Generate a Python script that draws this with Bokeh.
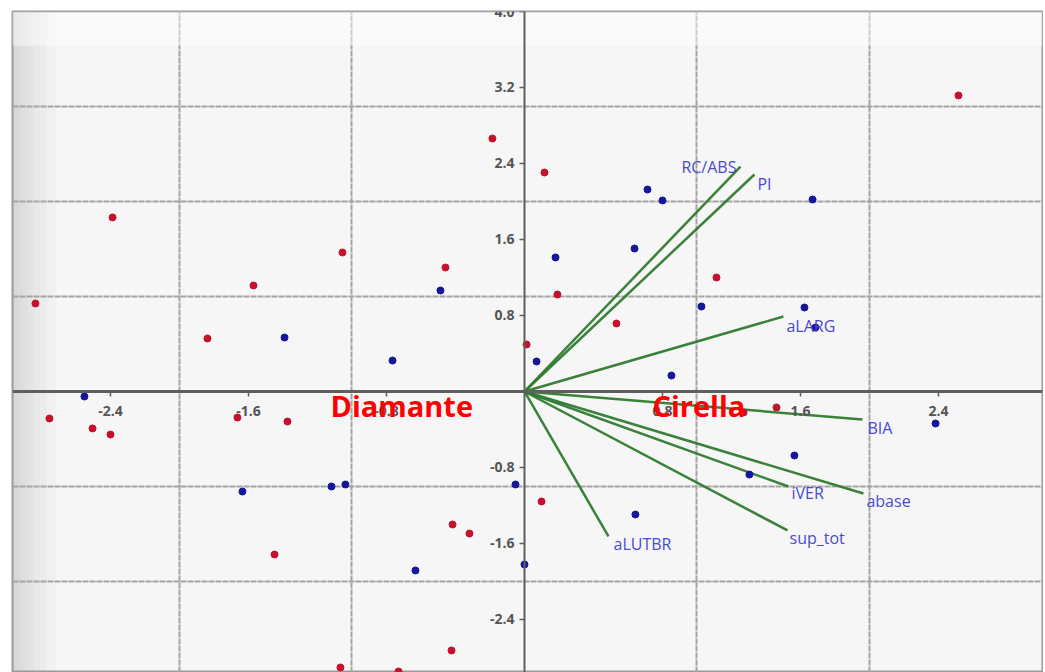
from bokeh.plotting import figure
from bokeh.models import ColumnDataSource, FixedTicker, Label, Range1d, NumeralTickFormatter, BoxAnnotation
from bokeh.core.properties import value
from bokeh.embed import file_html
from bokeh.resources import INLINE

# --- data (PCA biplot scores and loadings) ---
red_x = [2.516, -0.186, 0.116, -2.388, -1.055, -0.458, -1.571, 1.113, 0.191, -2.835,
         -1.838, 0.533, 0.012, -2.754, -2.504, -2.400, -1.664, -1.374, 1.461, 1.270,
         0.099, -0.417, -0.319, -1.449, -0.423, -1.067, -0.730]
red_y = [3.116, 2.663, 2.305, 1.832, 1.463, 1.305, 1.116, 1.200, 1.021, 0.926,
         0.558, 0.716, 0.495, -0.284, -0.389, -0.453, -0.274, -0.316, -0.168, -0.220,
         -1.158, -1.400, -1.495, -1.716, -2.726, -2.905, -2.947]

blue_x = [1.670, 0.713, 0.800, 0.638, 0.180, -0.487, 1.026, 1.623, 1.687, -1.391,
          -0.765, 0.070, 0.852, -2.551, 2.383, 1.565, 1.304, -1.635, -1.119, -1.038,
          -0.052, 0.643, 0.000, -0.632]
blue_y = [2.021, 2.126, 2.011, 1.505, 1.411, 1.063, 0.895, 0.884, 0.674, 0.568,
          0.326, 0.316, 0.168, -0.053, -0.337, -0.674, -0.874, -1.053, -1.000, -0.979,
          -0.979, -1.295, -1.821, -1.884]

var_names = ["RC/ABS", "PI", "aLARG", "BIA", "abase", "iVER", "sup_tot", "aLUTBR"]
load_x = [1.252, 1.333, 1.501, 1.959, 1.965, 1.530, 1.525, 0.487]
load_y = [2.368, 2.284, 0.789, -0.295, -1.074, -1.000, -1.463, -1.526]

x_ticks = [-2.4, -1.6, -0.8, 0.8, 1.6, 2.4]
y_ticks = [-2.4, -1.6, -0.8, 0.8, 1.6, 2.4, 3.2, 4.0]
x_grid = [-2, -1, 1, 2]
y_grid = [-2, -1, 1, 2, 3]

group_names = ["Diamante", "Cirella"]
group_x = [-1.125, 0.742]
group_y = [-0.147, -0.147]

# --- styles ---
label_align = ["right", "left", "left", "left", "left", "left", "left", "left"]
label_dx = [-4, 3, 3, 5, 3, 3, 2, 5]
label_dy = [0, 9, 9, 8, 7, 7, 8, 8]

X0, X1 = -2.968, 3.003
Y0, Y1 = -2.958, 4.0

p = figure(width=1043, height=672, output_backend="svg", toolbar_location=None,
           x_range=Range1d(X0, X1), y_range=Range1d(Y0, Y1),
           min_border_left=12, min_border_top=11, min_border_right=1, min_border_bottom=0,
           background_fill_color="#f6f6f6", border_fill_color="white",
           outline_line_color="#9a9a9a", outline_line_width=2)

# bevel-like shading of the frame
for w in [0.015, 0.035, 0.06, 0.09, 0.12, 0.16, 0.20, 0.25]:
    p.add_layout(BoxAnnotation(right=X0 + w, fill_color="#b0b0b0", fill_alpha=0.06,
                               line_color=None, level="underlay"))
p.add_layout(BoxAnnotation(bottom=Y1 - 0.36, fill_color="white", fill_alpha=0.45,
                           line_color=None, level="underlay"))

# grid
p.xgrid.ticker = FixedTicker(ticks=x_grid)
p.ygrid.ticker = FixedTicker(ticks=y_grid)
for g in (p.xgrid[0], p.ygrid[0]):
    g.grid_line_color = "#a4a4a4"
    g.grid_line_width = 2
    g.grid_line_dash = "6 1"

# axes through origin
for ax in (p.xaxis[0], p.yaxis[0]):
    ax.fixed_location = 0
    ax.axis_line_color = "#5e5e5e"
    ax.axis_line_width = 2
    ax.major_tick_line_color = "#5e5e5e"
    ax.major_tick_line_width = 1.5
    ax.major_tick_out = 5
    ax.major_tick_in = 0
    ax.minor_tick_line_color = None
    ax.major_label_text_font = "Open Sans"
    ax.major_label_text_font_size = "14px"
    ax.major_label_text_font_style = "bold"
    ax.major_label_text_color = "#555555"
    ax.formatter = NumeralTickFormatter(format="0.0")
p.xaxis[0].ticker = FixedTicker(ticks=x_ticks)
p.yaxis[0].ticker = FixedTicker(ticks=y_ticks)
p.xaxis[0].axis_line_width = 3
p.xaxis[0].major_label_standoff = 10
p.yaxis[0].major_label_standoff = 5

# loading vectors
vec = ColumnDataSource(dict(x0=[0.0] * len(load_x), y0=[0.0] * len(load_y),
                            x1=load_x, y1=load_y, name=var_names,
                            align=label_align, dx=label_dx, dy=label_dy))
p.segment(x0="x0", y0="y0", x1="x1", y1="y1", source=vec,
          line_color="#2f7a2f", line_width=2.5, line_alpha=0.95)

# points
p.scatter(red_x, red_y, size=7, fill_color="#c4122e", line_color="#c4122e")
p.scatter(blue_x, blue_y, size=7, fill_color="#16169c", line_color="#16169c")

# variable labels
p.text(x="x1", y="y1", text="name", source=vec, text_align="align",
       text_baseline="middle", x_offset="dx", y_offset="dy",
       text_font=value("Open Sans"), text_font_size="16px", text_color="#4a4ad0")

# group labels
for name, gx, gy in zip(group_names, group_x, group_y):
    p.add_layout(Label(x=gx, y=gy, text=name, text_align="left", text_baseline="middle",
                       text_font="Open Sans", text_font_style="bold",
                       text_font_size="29px", text_color="#ff0000"))

open("out.html", "w").write(file_html(p, INLINE))
